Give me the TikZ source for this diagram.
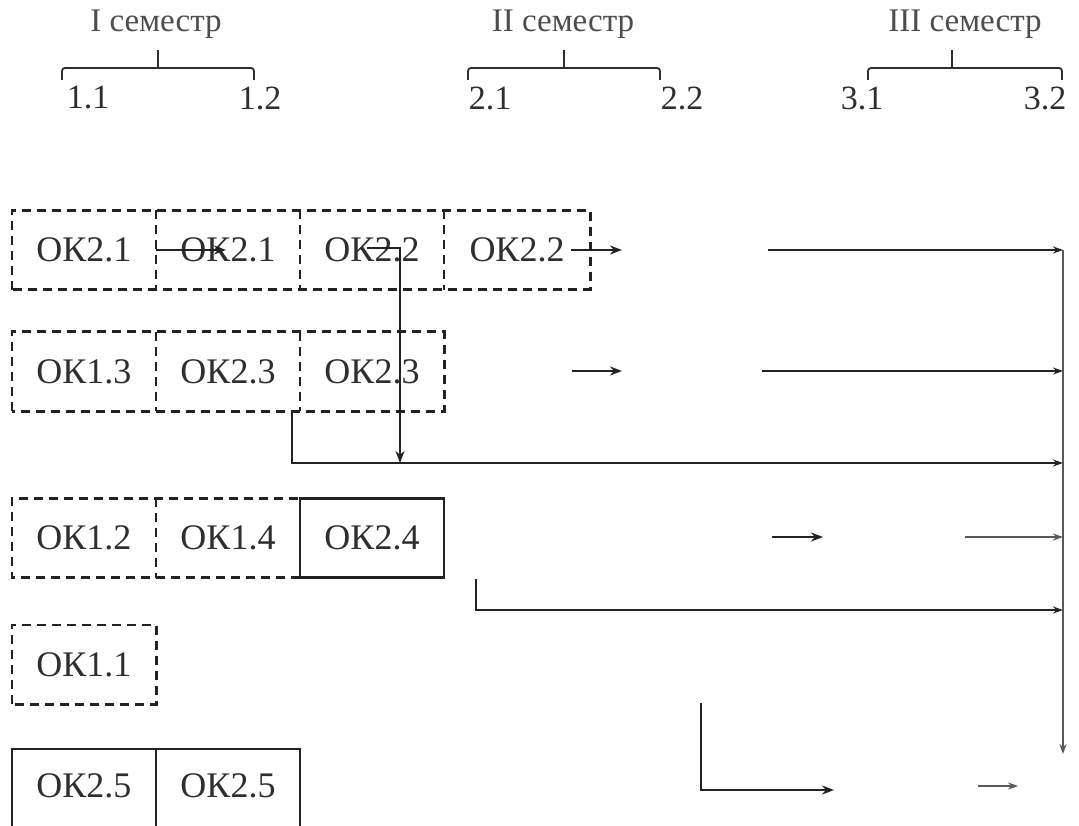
\documentclass[tikz,border=0pt]{standalone}
\usepackage{fontspec}
\setmainfont{Liberation Serif}
\usetikzlibrary{arrows.meta}
\definecolor{ink}{HTML}{222222}
\definecolor{txt}{HTML}{2E2E2E}
\begin{document}
\begin{tikzpicture}[x=1pt,y=-1pt,
  lbl/.style={font=\fontsize{34}{40}\selectfont, text=txt, inner sep=0pt},
  hdr/.style={font=\fontsize{33}{38}\selectfont, text=txt!85, inner sep=0pt},
  cell/.style={minimum width=144pt, minimum height=79pt, inner sep=0pt,
    font=\fontsize{36}{42}\selectfont, text=txt},
  dline/.style={draw=ink, dash pattern=on 9pt off 6pt, line width=2.6pt},
  sbox/.style={cell, draw=ink, line width=2.2pt},
  brace/.style={draw=txt, line width=1.8pt, rounded corners=3pt},
  conn/.style={draw=ink, line width=2pt},
  arr/.style={conn, -{Stealth[length=12pt,width=9pt]}},
  farr/.style={draw=black!65, line width=1.6pt, -{Stealth[length=10pt,width=7pt]}},
]
\clip (0,0) rectangle (1079,826);
\fill[white] (0,0) rectangle (1079,826);

% ---- header ----
\node[hdr] (s1) at (156,24) {I семестр};
\node[hdr] (s2) at (563,24) {II семестр};
\node[hdr] (s3) at (965,24) {III семестр};
\draw[brace] (62,80) -- (62,68) -- (254,68) -- (254,80);
\draw[brace] (158,68) -- (158,50);
\draw[brace] (468,80) -- (468,68) -- (660,68) -- (660,80);
\draw[brace] (564,68) -- (564,50);
\draw[brace] (868,80) -- (868,68) -- (1062,68) -- (1062,80);
\draw[brace] (952,68) -- (952,50);
\node[lbl] (t11) at (88,98) {1.1};
\node[lbl] (t12) at (260,98) {1.2};
\node[lbl] (t21) at (490,98) {2.1};
\node[lbl] (t22) at (682,98) {2.2};
\node[lbl] (t31) at (862,98) {3.1};
\node[lbl] (t32) at (1045,98) {3.2};

% ---- row 1 ----
\node[cell] (b11) at (84,250) {ОК2.1};
\node[cell] (b12) at (228,250) {ОК2.1};
\node[cell] (b13) at (372,250) {ОК2.2};
\node[cell, minimum width=146pt] (b14) at (517,250) {ОК2.2};
\draw[dline] (b11.south west) rectangle (b14.north east);
\draw[dline] (b12.north west) -- (b12.south west);
\draw[dline] (b13.north west) -- (b13.south west);
\draw[dline] (b14.north west) -- (b14.south west);
% ---- row 2 ----
\node[cell] (b21) at (84,371.5) {ОК1.3};
\node[cell] (b22) at (228,371.5) {ОК2.3};
\node[cell] (b23) at (372,371.5) {ОК2.3};
\draw[dline] (b21.south west) rectangle (b23.north east);
\draw[dline] (b22.north west) -- (b22.south west);
\draw[dline] (b23.north west) -- (b23.south west);
% ---- row 3 ----
\node[cell] (b31) at (84,538) {ОК1.2};
\node[cell] (b32) at (228,538) {ОК1.4};
\draw[dline] (b32.south east) -- (b31.south west) -- (b31.north west) -- (b32.north east);
\draw[dline] (b32.north west) -- (b32.south west);
\node[sbox] (b33) at (372,538) {ОК2.4};
% ---- row 4 ----
\node[cell] (b41) at (84,664.5) {ОК1.1};
\draw[dline] (b41.south west) rectangle (b41.north east);
% ---- row 5 ----
\node[sbox, minimum height=0pt, text height=48pt, text depth=70pt, anchor=base] (b51) at (84,797) {ОК2.5};
\node[sbox, minimum height=0pt, text height=48pt, text depth=70pt, anchor=base] (b52) at (228,797) {ОК2.5};

% ---- coordinates for free ends ----
\coordinate (a1e) at (226,250);
\coordinate (l1s) at (367,248);
\coordinate (l1c) at (400,248);
\coordinate (l1e) at (400,463);
\coordinate (a2s) at (571,250);
\coordinate (a2e) at (622,250);
\coordinate (r1s) at (768,250);
\coordinate (r1e) at (1063,250);
\coordinate (a3s) at (572,371);
\coordinate (a3e) at (622,371);
\coordinate (r2s) at (762,371);
\coordinate (r2e) at (1063,371);
\coordinate (l2s) at (292,411);
\coordinate (l2c) at (292,463);
\coordinate (r3e) at (1063,463);
\coordinate (a4s) at (772,537);
\coordinate (a4e) at (823,537);
\coordinate (r4s) at (965,537);
\coordinate (r4e) at (1063,537);
\coordinate (l3s) at (476,579);
\coordinate (l3c) at (476,610);
\coordinate (r5e) at (1063,610);
\coordinate (vtop) at (1063,250);
\coordinate (vbot) at (1063,754);
\coordinate (l4s) at (701,703);
\coordinate (l4c) at (701,790);
\coordinate (l4e) at (834,790);
\coordinate (a5s) at (978,786);
\coordinate (a5e) at (1018,786);

% ---- connectors ----
\draw[arr] (b12.west) -- (a1e);
\draw[arr] (l1s) -- (l1c) -- (l1e);
\draw[arr] (a2s) -- (a2e);
\draw[farr, draw=ink] (r1s) -- (r1e);
\draw[arr] (a3s) -- (a3e);
\draw[farr, draw=ink] (r2s) -- (r2e);
\draw[farr, draw=ink] (l2s) -- (l2c) -- (r3e);
\draw[arr] (a4s) -- (a4e);
\draw[farr] (r4s) -- (r4e);
\draw[farr, draw=ink] (l3s) -- (l3c) -- (r5e);
\draw[farr] (vtop) -- (vbot);
\draw[arr] (l4s) -- (l4c) -- (l4e);
\draw[farr] (a5s) -- (a5e);
\end{tikzpicture}
\end{document}
